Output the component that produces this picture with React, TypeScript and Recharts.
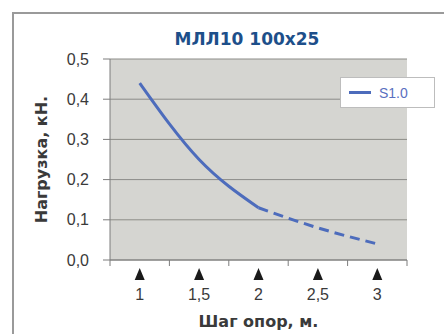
import * as React from "react";
import {
  LineChart,
  Line,
  XAxis,
  YAxis,
  CartesianGrid,
  Legend,
} from "recharts";

// Шаг опор, м.
const steps = ["1", "1,5", "2", "2,5", "3"];
// Нагрузка, кН.
const loads = [0.44, 0.25, 0.13, 0.08, 0.04];
const yTicks = [0, 0.1, 0.2, 0.3, 0.4, 0.5];
const seriesName = "S1.0";

// solid part up to 2 m, dashed after
const data = steps.map((s, i) => ({
  step: s,
  solid: i <= 2 ? loads[i] : null,
  dashed: i >= 2 ? loads[i] : null,
}));

const lineColor = "#4d6cbc";
const textColor = "#3a3a3a";
const axisColor = "#7d7d7d";
const font = "'Liberation Sans', Arial, sans-serif";
const titleFont = "'DejaVu Sans', Verdana, sans-serif";

const XTick = (props: any) => {
  const { x, y, payload, index } = props;
  const off = payload.offset || 0;
  const last = index === steps.length - 1;
  return (
    <g>
      <line x1={x - off} x2={x - off} y1={y} y2={y + 6} stroke={axisColor} />
      {last && <line x1={x + off} x2={x + off} y1={y} y2={y + 6} stroke={axisColor} />}
      <path d={`M${x - 5},${y + 20} L${x},${y + 8} L${x + 5},${y + 20} Z`} fill="#1a1a1a" />
      <text x={x} y={y + 40} textAnchor="middle" fill={textColor} fontSize={16} fontFamily={font}>
        {payload.value}
      </text>
    </g>
  );
};

const renderLegend = (props: any) => {
  const items = (props.payload || []).filter((p: any) => p.type !== "none");
  return (
    <div
      style={{
        width: 95,
        height: 31,
        boxSizing: "border-box",
        background: "#fff",
        border: "1px solid #bdbdbd",
        display: "flex",
        alignItems: "center",
        fontFamily: font,
      }}
    >
      {items.map((p: any) => (
        <React.Fragment key={p.value}>
          <span style={{ display: "inline-block", width: 22, height: 3, background: p.color, marginLeft: 8 }} />
          <span style={{ marginLeft: 8, color: "#5a70c0", fontSize: 14 }}>{p.value}</span>
        </React.Fragment>
      ))}
    </div>
  );
};

export default function App() {
  return (
    <div style={{ position: "absolute", left: 0, top: 0, width: 444, height: 334, overflow: "hidden", background: "#fff" }}>
      <div
        style={{
          position: "absolute",
          left: 12,
          top: 12,
          width: 460,
          height: 360,
          border: "2px solid #9a9a9a",
        }}
      />
      <div
        style={{
          position: "absolute",
          left: 0,
          width: 494,
          top: 29,
          textAlign: "center",
          fontFamily: titleFont,
          fontWeight: "bold",
          fontSize: 17,
          color: "#1d4f8a",
        }}
      >
        МЛЛ10 100x25
      </div>
      <div style={{ position: "absolute", left: 0, top: 0 }}>
        <LineChart width={444} height={334} data={data} margin={{ top: 59, right: 37, bottom: 14, left: 20 }}>
          <CartesianGrid vertical={false} fill="#d5d5d1" stroke="#8c8c88" />
          <XAxis
            dataKey="step"
            scale="band"
            height={60}
            stroke={axisColor}
            tickLine={false}
            tickSize={0}
            tickMargin={0}
            tick={<XTick />}
            label={{
              value: "Шаг опор, м.",
              position: "insideBottom",
              offset: -7,
              fill: textColor,
              fontSize: 16,
              fontWeight: "bold",
              fontFamily: titleFont,
            }}
          />
          <YAxis
            width={90}
            domain={[0, 0.5]}
            ticks={yTicks}
            stroke={axisColor}
            tickSize={7}
            tickMargin={14}
            tickFormatter={(v: number) => v.toFixed(1).replace(".", ",")}
            tick={{ fill: textColor, fontSize: 16, fontFamily: font }}
            label={{
              value: "Нагрузка, кН.",
              angle: -90,
              position: "insideLeft",
              offset: 21,
              fill: textColor,
              fontSize: 16,
              fontWeight: "bold",
              fontFamily: titleFont,
              style: { textAnchor: "middle" },
            }}
          />
          <YAxis yAxisId="r" orientation="right" width={0} tick={false} tickLine={false} stroke={axisColor} />
          <Legend
            layout="vertical"
            align="center"
            verticalAlign="middle"
            content={renderLegend}
            wrapperStyle={{ left: 340, top: 77 }}
          />
          <Line
            type="monotone"
            dataKey="solid"
            name={seriesName}
            stroke={lineColor}
            strokeWidth={3}
            dot={false}
            isAnimationActive={false}
          />
          <Line
            type="monotone"
            dataKey="dashed"
            legendType="none"
            stroke={lineColor}
            strokeWidth={3}
            strokeDasharray="10 6"
            dot={false}
            isAnimationActive={false}
          />
        </LineChart>
      </div>
    </div>
  );
}
